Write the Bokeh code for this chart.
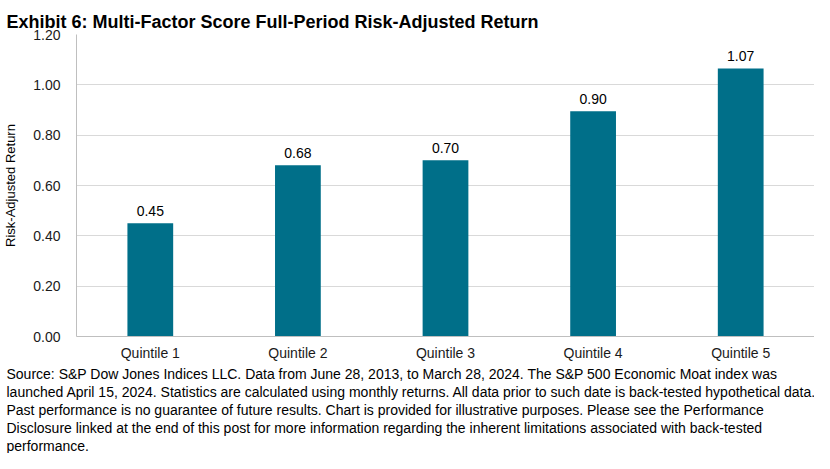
from bokeh.plotting import figure
from bokeh.models import ColumnDataSource, Title, LabelSet, FixedTicker, Range1d
from bokeh.core.properties import value
from bokeh.embed import file_html
from bokeh.resources import INLINE

categories = ["Quintile 1", "Quintile 2", "Quintile 3", "Quintile 4", "Quintile 5"]
values = [0.45, 0.68, 0.70, 0.895, 1.065]
value_labels = ["0.45", "0.68", "0.70", "0.90", "1.07"]
y_ticks = [0.0, 0.2, 0.4, 0.6, 0.8, 1.0, 1.2]
y_tick_labels = ["0.00", "0.20", "0.40", "0.60", "0.80", "1.00", "1.20"]

title_text = "Exhibit 6: Multi-Factor Score Full-Period Risk-Adjusted Return"
footnote_lines = [
    "Source: S&P Dow Jones Indices LLC. Data from June 28, 2013, to March 28, 2024. The S&P 500 Economic Moat index was",
    "launched April 15, 2024. Statistics are calculated using monthly returns. All data prior to such date is back-tested hypothetical data.",
    "Past performance is no guarantee of future results. Chart is provided for illustrative purposes. Please see the Performance",
    "Disclosure linked at the end of this post for more information regarding the inherent limitations associated with back-tested",
    "performance.",
]

BAR = "#006F89"
FONT = "Liberation Sans"

source = ColumnDataSource(dict(cat=categories, val=values, lab=value_labels))

p = figure(
    x_range=categories,
    y_range=Range1d(0, 1.2),
    width=814, height=453,
    output_backend="svg", toolbar_location=None,
    min_border_left=70, min_border_right=0, min_border_top=34, min_border_bottom=0,
)
p.title = Title(text=title_text, text_font=FONT, text_font_size="18px",
                text_font_style="bold", text_color="#000000", align="left",
                offset=-70, standoff=5)

p.vbar(x="cat", top="val", width=0.31, source=source, color=BAR, line_color=None)

labels = LabelSet(x="cat", y="val", text="lab", source=source, y_offset=7,
                  text_align="center", text_baseline="bottom",
                  text_font=value(FONT), text_font_size=value("14px"),
                  text_color="#000000")
p.add_layout(labels)

p.x_range.range_padding = 0
p.outline_line_color = None
p.xgrid.grid_line_color = None
p.ygrid.grid_line_color = "#d9d9d9"
p.ygrid.ticker = FixedTicker(ticks=y_ticks)

p.yaxis.ticker = FixedTicker(ticks=y_ticks)
p.yaxis.major_label_overrides = {t: l for t, l in zip(y_ticks, y_tick_labels)}
p.yaxis.axis_label = "Risk-Adjusted Return"
p.yaxis.axis_label_text_font = FONT
p.yaxis.axis_label_text_font_size = "13px"
p.yaxis.axis_label_text_font_style = "normal"
p.yaxis.axis_label_text_color = "#000000"
p.yaxis.axis_label_standoff = 12

for ax in (p.xaxis, p.yaxis):
    ax.axis_line_color = "#bfbfbf"
    ax.major_tick_line_color = None
    ax.minor_tick_line_color = None
    ax.major_label_text_font = FONT
    ax.major_label_text_font_size = "14px"
    ax.major_label_text_color = "#1a1a1a"
    ax.major_label_standoff = 10

p.xaxis.major_label_standoff = 2

for i, line in enumerate(footnote_lines):
    t = Title(text=line, text_font=FONT, text_font_size="14px",
              text_font_style="normal", text_color="#000000",
              align="left", offset=-70, standoff=0)
    p.add_layout(t, "below")

open("out.html", "w").write(file_html(p, INLINE))
